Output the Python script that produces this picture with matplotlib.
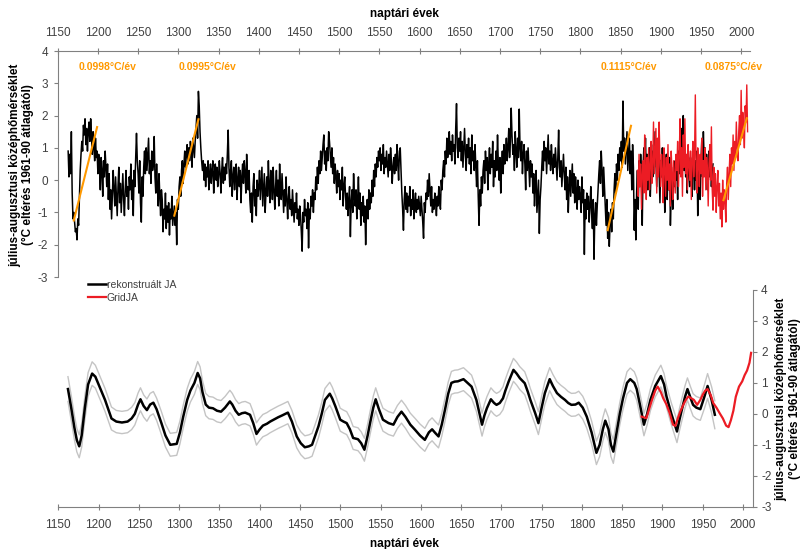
import numpy as np
import matplotlib
matplotlib.use("Agg")
import matplotlib.pyplot as plt

plt.rcParams['font.family'] = ['Liberation Sans', 'DejaVu Sans']
plt.rcParams['axes.unicode_minus'] = False

# reconstructed July-August anomaly, one value per year from rec_start
rec_start = 1163
rec_vals = [
    0.9, 0.1, 0.8, 0.2, 1.5, -0.4, -1.2,
    -1.0, -1.3, -1.6, -1.5, -1.85, -1.2, -1.4, -0.6, 0.3, 0.8,
    1.2, 0.9, 1.7, 1.4, 1.9, 1.1, 1.6, 0.9, 1.5, 1.8,
    1.2, 1.9, 1.4, 0.8, 1.5, 1.0, 0.6, 1.3, 0.7, 0.9,
    0.2, 0.8, 0.4, -0.3, 0.7, 0.3, -0.5, 0.6, 0.1, 0.9,
    0.4, -0.2, 0.5, -0.6, 0.2, -0.9, -0.3, -1.2, -0.4, 0.3,
    -0.3, -0.8, 0.1, -0.5, -1.1, -0.2, 0.4, -0.7, -0.1, -1.0,
    -0.4, 0.2, -0.6, -1.1, -0.3, 0.3, -0.5, -0.2, -0.9, 0.1,
    -0.3, 0.5, -0.6, 0.0, -1.1, 0.3, -0.2, 0.7, 1.45, 0.6,
    0.2, -0.4, 0.6, -0.7, -1.3, 0.1, -0.5, 0.4, 0.9, 0.2,
    1.0, 0.3, 0.8, 1.3, 0.2, 0.6, -0.1, 0.9, 0.3, 0.5,
    1.35, 0.1, -0.4, 0.5, -0.2, -0.8, 0.2, -0.5, -1.1, -0.3,
    -0.6, -1.6, -0.9, -1.2, -0.4, -1.5, -0.8, -1.3, -0.7, -1.7,
    -0.9, -1.2, -0.5, -1.4, -1.1, -0.8, -1.4, -1.0, -2.0, -0.6,
    -0.9, -0.2, 0.1, -0.5, 0.3, 0.6, -0.1, 0.5, 0.9, 0.4,
    0.8, 1.1, 0.5, 1.0, 0.6, 1.2, 0.9, 0.4, 1.3, 1.0,
    0.7, 1.2, 1.6, 2.0, 1.3, 2.75, 2.3, 1.5, 1.0, 0.6,
    0.3, 0.6, 0.0, 0.5, -0.2, 0.4, 0.1, 0.6, -0.3, 0.2,
    0.5, -0.1, 0.3, 0.6, -0.4, 0.2, 0.5, 0.0, 0.4, -0.2,
    0.1, 0.6, 0.2, -0.4, 0.3, 0.7, -0.1, 0.4, 0.0, 0.5,
    0.2, 0.8, 1.55, 0.4, -0.2, 0.3, 0.6, -0.5, 0.1, 0.4,
    -0.3, 0.2, 0.5, -0.6, 0.0, 0.4, -0.2, 0.3, -0.7, 0.1,
    0.5, -0.1, 0.6, 0.2, -0.4, 0.8, 0.1, -0.3, 0.3, -0.6,
    -1.0, -0.4, -1.3, -0.2, 0.2, -0.8, -0.3, -1.1, 0.0, -0.5,
    -0.2, 0.3, -0.6, -0.1, 0.4, -0.8, -0.3, 0.2, -1.0, -0.4,
    0.1, -0.5, 0.6, -0.2, -0.7, 0.3, -0.1, -0.6, 0.4, -0.3,
    -0.9, -0.2, 0.3, -0.5, 0.0, -0.8, 0.5, -0.3, -0.6, 0.2,
    -0.4, -1.0, -0.3, -0.8, 0.1, -0.6, -1.2, -0.5, -0.2, -0.9,
    -0.6, -1.1, -0.3, -0.8, -1.3, -0.7, -1.0, -0.4, -1.2, -0.9,
    -1.4, -0.8, -1.1, -1.6, -2.2, -1.0, -1.3, -0.6, -1.1, -0.9,
    -1.5, -0.7, -2.1, -0.9, -1.2, -0.5, -0.8, -0.3, -1.0, -0.4,
    -0.6, 0.1, -0.3, 0.4, -0.1, 0.6, 0.2, 0.9, 0.3, 0.7,
    1.1, 1.4, 0.5, 0.9, 0.3, 1.0, 0.6, 1.5, 1.2, 0.8,
    0.4, 1.0, 0.2, 0.7, -0.1, 0.5, 0.1, -0.4, 0.3, -0.2,
    0.2, -0.6, 0.0, -0.3, 0.4, -0.8, -0.2, 0.1, -0.5, -0.9,
    -0.4, -1.1, -0.6, -0.2, -1.75, -0.7, -0.3, -1.0, 0.2, -0.5,
    -0.8, -0.3, -1.2, -0.6, 0.1, -0.9, -0.4, -1.4, -0.7, -1.1,
    -0.5, -1.3, -0.8, -2.0, -1.0, -0.6, -1.2, -0.3, -0.9, -0.4,
    -0.7, 0.0, -0.5, 0.3, -0.2, 0.5, 0.1, 0.7, 0.4, 0.9,
    0.6, 1.0, 0.3, 0.8, 0.5, 1.1, 0.2, 0.7, 0.4, 0.9,
    0.5, 0.1, 0.8, 0.3, 1.0, 0.6, -0.1, 0.4, 0.7, 0.2,
    0.8, 0.3, 1.1, 0.5, 0.0, 0.9, 1.0, 0.3, -0.4, -0.9,
    -1.55, -0.6, -0.2, -0.9, -0.4, -1.0, -0.5, -0.8, -0.2, -1.1,
    -0.6, -0.9, -0.3, -1.2, -0.7, -0.4, -1.0, -0.6, -0.9, -0.5,
    -0.8, -1.1, -0.5, -0.9, -1.3, -1.8, -0.7, -1.0, -0.4, -0.6,
    0.0, -0.5, 0.2, -0.3, -0.8, -0.2, -1.0, -0.6, -0.9, -0.4,
    -0.7, -1.1, -0.5, -0.8, -0.2, -0.6, -0.9, 0.0, -0.3, 0.3,
    0.6, 0.1, 0.9, 0.5, 1.3, 0.7, 1.0, 1.5, 0.8, 1.2,
    0.6, 1.4, 0.9, 1.1, 0.5, 1.6, 2.37, 1.0, 0.7, 1.3,
    0.9, 1.5, 0.6, 1.2, 0.4, 1.0, 1.6, 0.8, 0.3, 1.1,
    0.7, 1.3, 0.5, 1.0, 0.2, 1.4, 0.6, 0.9, 0.3, 1.1,
    0.4, -0.2, 0.6, -0.5, -1.4, -0.3, -0.8, 0.1, -0.4, 0.3,
    0.6, -0.1, 0.9, 0.3, 0.7, -0.3, 0.5, 1.0, 0.2, 0.8,
    0.4, 1.2, -0.2, 0.6, 0.1, 0.9, 0.3, 1.4, 0.5, 0.0,
    0.7, -0.4, 0.4, 0.9, 0.2, 1.1, 0.5, 0.8, 1.3, 0.6,
    1.0, 1.6, 0.7, 1.2, 2.23, 1.4, 0.8, 1.1, 0.3, 1.5,
    0.9, 0.4, 1.3, 0.7, 2.2, 1.0, 0.6, 1.2, 0.2, 0.8,
    1.1, 0.5, -0.3, 0.9, 0.3, 1.0, 0.4, -0.2, 0.6, 0.1,
    0.5, -0.4, 0.2, -0.8, -0.1, 0.3, -1.0, -0.5, 0.0, -1.65,
    -0.6, -0.2, 0.4, 0.9, 0.3, 1.2, 0.6, 1.0, 0.2, 0.8,
    1.4, 0.5, 0.9, 0.3, 1.1, 0.6, 0.2, 0.8, 0.4, 1.0,
    0.5, 0.0, 0.7, 1.55, 0.4, 0.1, 0.6, -0.2, 0.3, 0.8,
    0.2, -0.3, 0.4, -0.6, 0.1, -1.0, -0.2, 0.3, -0.5, 0.0,
    0.5, -0.4, 0.2, -0.7, 0.1, -0.3, -0.9, 0.0, -0.6, -0.2,
    -0.5, -1.0, 0.1, -0.7, -0.3, -2.3, -0.6, -1.2, -0.4, -0.9,
    -0.5, -1.3, -0.8, -0.2, -1.0, -1.5, -0.6, -2.45, -1.1, -0.7,
    -1.4, -0.8, -0.3, 0.2, 0.6, -0.1, 0.9, 0.3, -0.5, 0.4,
    -0.2, -0.8, -1.4, -0.6, -1.8, -1.0, -2.05, -1.3, -0.9, -1.6,
    -0.7, -1.2, -0.3, 0.2, -0.4, 0.5, 0.0, 0.8, 0.3, 1.0,
    0.6, 1.2, 0.4, 2.45, 0.9, 1.3, 0.5, 1.0, 1.5, 0.3,
    0.8, 1.3, 0.2, 0.9, -0.3, 1.1, 0.4, -1.55, -0.6, -1.85,
    -0.4, 0.3, -0.9, 0.6, -0.2, 0.8, 0.1, -1.4, 0.4, 1.0,
    0.5, 1.3, 0.2, 0.8, -0.3, 0.6, 1.0, -0.5, 0.3, 0.9,
    0.1, 1.1, 0.4, 1.5, 0.7, -0.2, 0.9, 1.2, 0.3, -0.7,
    0.6, 0.1, 1.0, -0.4, 0.5, -1.0, 0.2, 0.8, -0.6, 0.3,
    -0.3, 0.7, -1.4, -0.5, 0.2, -0.9, 0.4, -0.2, 0.6, 0.0,
    0.5, -0.6, 0.9, 0.2, 1.2, 0.4, 1.6, 0.7, 2.0, 0.3,
    0.8, 0.1, 0.6, -0.4, 1.0, 0.3, -0.2, 0.7, 0.2, -0.5,
    0.4, 1.1, -0.3, 0.6, 0.0, 0.9, -1.1, 0.3, 0.7, -0.6,
    0.5, 1.2, 0.1, 1.5, 0.6, 1.0, 0.2, 0.8, -0.3, 0.4,
    0.9, 0.1, 0.6, -0.2, 0.3, 0.5,
]

# gridded instrumental July-August anomaly, one value per year
grid_start = 1871
grid_vals = [
    0.3, -0.5, 0.8, -0.2, 0.5, -0.9, 0.2, 0.6, -0.4,
    1.4, 0.2, -0.6, 0.7, 0.0, 1.0, -0.3, 0.4, 1.2, -0.1,
    0.5, 1.8, 0.2, 0.9, 1.6, -0.4, 1.3, 0.1, 1.8, 0.6,
    -0.2, 0.8, 0.3, -0.7, 1.0, 0.4, -0.5, 0.7, 0.0, 1.1,
    -0.3, 0.5, -0.8, 0.9, 0.2, -0.6, 0.6, 0.1, -0.4, 0.8,
    0.3, 1.2, -0.2, 0.7, 1.9, 0.1, 1.0, -0.5, 1.4, 0.4,
    1.9, 0.2, 0.8, -0.3, 1.1, 0.5, 0.0, 0.9, -0.6, 0.6,
    1.2, 0.1, 0.7, 2.64, 0.3, -0.4, 1.0, 0.5, -0.2, 0.8,
    0.2, 1.3, -0.5, 0.6, 0.1, 1.0, -0.3, 0.7, 0.4, -0.8,
    0.5, 1.1, 0.0, 1.65, -0.3, -0.93, 0.4, -0.5, 0.2, -1.0,
    -0.2, 0.3, -0.8, -0.1, -1.2, -0.4, -1.45, 0.0, -0.9, -0.3,
    -0.7, -1.3, -0.1, 0.4, -0.6, 0.2, 0.8, -0.2, 1.0, 0.5,
    1.4, 0.3, 1.2, 0.7, 1.8, 1.0, 0.6, 1.5, 2.0, 1.1,
    2.78, 1.3, 2.1, 1.6, 1.0, 2.3, 1.8, 2.95, 1.5,
]

# smoothed reconstruction with its error band half-width
smooth_years = [
    1162, 1166, 1170, 1173, 1176, 1179, 1183, 1187, 1192, 1196,
    1200, 1204, 1208, 1212, 1216, 1222, 1229, 1236, 1241, 1245,
    1249, 1252, 1256, 1260, 1264, 1268, 1272, 1278, 1283, 1289,
    1297, 1301, 1305, 1310, 1314, 1319, 1323, 1326, 1329, 1333,
    1337, 1342, 1347, 1352, 1357, 1363, 1366, 1370, 1374, 1378,
    1382, 1388, 1392, 1396, 1400, 1404, 1409, 1413, 1418, 1423,
    1428, 1435, 1440, 1446, 1451, 1456, 1461, 1465, 1469, 1473,
    1477, 1481, 1487, 1490, 1494, 1500, 1504, 1508, 1512, 1516,
    1522, 1526, 1530, 1534, 1537, 1541, 1544, 1548, 1553, 1560,
    1566, 1571, 1576, 1581, 1587, 1593, 1599, 1605, 1610, 1614,
    1618, 1622, 1626, 1630, 1634, 1638, 1642, 1646, 1653, 1658,
    1663, 1669, 1673, 1676, 1679, 1682, 1687, 1691, 1694, 1698,
    1702, 1705, 1709, 1715, 1719, 1723, 1729, 1733, 1736, 1742,
    1746, 1750, 1754, 1760, 1764, 1769, 1774, 1779, 1783, 1787,
    1792, 1796, 1801, 1806, 1812, 1818, 1822, 1826, 1829, 1833,
    1836, 1839, 1843, 1847, 1851, 1856, 1860, 1865, 1868, 1872,
    1877, 1881, 1885, 1891, 1898, 1902, 1905, 1911, 1918, 1921,
    1924, 1928, 1931, 1935, 1938, 1942, 1947, 1952, 1956, 1961,
    1965,
]
smooth_vals = [
    0.8, 0.2, -0.45, -0.85, -1.05, -0.7, 0.2, 0.95, 1.3, 1.2,
    0.95, 0.7, 0.45, 0.15, -0.15, -0.25, -0.28, -0.25, -0.15, 0.0,
    0.3, 0.47, 0.25, 0.12, 0.3, 0.36, 0.15, -0.3, -0.7, -1.0,
    -0.97, -0.6, -0.1, 0.45, 0.75, 1.0, 1.32, 1.15, 0.7, 0.3,
    0.2, 0.18, 0.1, 0.07, 0.2, 0.4, 0.3, 0.1, -0.03, 0.02,
    0.04, -0.03, -0.3, -0.65, -0.5, -0.38, -0.32, -0.25, -0.18, -0.11,
    -0.05, 0.04, -0.25, -0.73, -0.95, -1.08, -1.05, -1.0, -0.7, -0.4,
    0.0, 0.45, 0.65, 0.5, 0.24, -0.19, -0.25, -0.3, -0.5, -0.78,
    -0.82, -0.95, -1.16, -0.7, -0.3, 0.2, 0.47, 0.15, -0.19, -0.3,
    -0.35, -0.1, 0.07, -0.1, -0.35, -0.52, -0.7, -0.84, -0.6, -0.5,
    -0.62, -0.73, -0.35, 0.13, 0.65, 1.0, 1.04, 1.05, 1.12, 1.0,
    0.88, 0.45, 0.0, -0.35, -0.05, 0.18, 0.47, 0.35, 0.29, 0.35,
    0.5, 0.75, 1.04, 1.42, 1.3, 1.15, 0.99, 0.7, 0.45, 0.02,
    -0.3, 0.2, 0.67, 1.12, 0.9, 0.67, 0.55, 0.45, 0.35, 0.29,
    0.3, 0.36, 0.2, -0.09, -0.6, -1.26, -1.0, -0.5, -0.22, -0.5,
    -1.0, -1.22, -0.6, 0.0, 0.5, 1.0, 1.12, 1.0, 0.8, 0.3,
    -0.35, 0.0, 0.45, 0.9, 1.22, 0.95, 0.56, 0.0, -0.57, -0.2,
    0.13, 0.55, 0.8, 0.5, 0.29, 0.2, 0.15, 0.55, 0.9, 0.45,
    -0.03,
]
smooth_band = [
    0.40, 0.40, 0.39, 0.38, 0.37, 0.38, 0.38, 0.38, 0.38, 0.37,
    0.37, 0.37, 0.37, 0.37, 0.37, 0.36, 0.36, 0.36, 0.36, 0.36,
    0.37, 0.37, 0.36, 0.36, 0.36, 0.36, 0.36, 0.37, 0.37, 0.37,
    0.37, 0.37, 0.37, 0.37, 0.37, 0.37, 0.37, 0.37, 0.37, 0.36,
    0.36, 0.36, 0.36, 0.36, 0.36, 0.36, 0.36, 0.36, 0.36, 0.36,
    0.36, 0.36, 0.36, 0.36, 0.36, 0.36, 0.36, 0.36, 0.36, 0.36,
    0.36, 0.36, 0.36, 0.37, 0.37, 0.37, 0.37, 0.37, 0.37, 0.37,
    0.37, 0.37, 0.37, 0.37, 0.37, 0.37, 0.37, 0.37, 0.37, 0.37,
    0.37, 0.37, 0.37, 0.37, 0.37, 0.37, 0.37, 0.37, 0.37, 0.37,
    0.37, 0.37, 0.37, 0.37, 0.37, 0.37, 0.37, 0.37, 0.37, 0.37,
    0.37, 0.37, 0.37, 0.37, 0.37, 0.37, 0.37, 0.37, 0.37, 0.37,
    0.37, 0.37, 0.37, 0.37, 0.37, 0.37, 0.37, 0.37, 0.37, 0.37,
    0.37, 0.37, 0.37, 0.37, 0.37, 0.37, 0.37, 0.37, 0.37, 0.37,
    0.37, 0.37, 0.37, 0.37, 0.37, 0.37, 0.37, 0.37, 0.37, 0.37,
    0.37, 0.37, 0.37, 0.37, 0.37, 0.38, 0.38, 0.38, 0.38, 0.38,
    0.38, 0.38, 0.37, 0.36, 0.36, 0.36, 0.36, 0.36, 0.36, 0.36,
    0.36, 0.35, 0.35, 0.35, 0.35, 0.35, 0.35, 0.35, 0.36, 0.36,
    0.36, 0.36, 0.36, 0.36, 0.36, 0.36, 0.36, 0.38, 0.40, 0.42,
    0.45,
]

# smoothed gridded series
grid_smooth_years = [
    1874, 1880, 1884, 1887, 1891, 1894, 1898, 1901, 1905, 1909,
    1913, 1916, 1919, 1922, 1926, 1929, 1932, 1936, 1939, 1943,
    1947, 1950, 1953, 1956, 1960, 1963, 1967, 1971, 1975, 1979,
    1982, 1985, 1988, 1991, 1995, 1999, 2002, 2005, 2008, 2010,
]
grid_smooth_vals = [
    -0.09, -0.14, 0.2, 0.45, 0.75, 0.88, 0.7, 0.5, 0.3, 0.02,
    -0.35, -0.39, -0.15, 0.07, 0.3, 0.45, 0.56, 0.5, 0.45, 0.29,
    0.45, 0.62, 0.75, 0.8, 0.6, 0.35, 0.2, 0.02, -0.15, -0.38,
    -0.43, -0.2, 0.1, 0.55, 0.88, 1.05, 1.25, 1.4, 1.65, 1.97,
]

# warming episodes: start year, end year, start value and fitted slope (°C/yr)
trend_x0 = [1170, 1295, 1834, 1978]
trend_x1 = [1199, 1325, 1863, 2007]
trend_y0 = [-1.25, -1.1, -1.55, -0.62]
trend_slopes = [0.0998, 0.0995, 0.1115, 0.0875]
trend_labels = ["0.0998°C/év", "0.0995°C/év", "0.1115°C/év", "0.0875°C/év"]
trend_label_x = [1176, 1301, 1825, 1955]

ticks_x = list(range(1150, 2001, 50))
ticks_y = list(range(-3, 5))

axis_grey = '#808080'
text_grey = '#404040'
orange = '#ff9900'
red = '#ec1c24'

W, H = 804, 549
fig = plt.figure(figsize=(W / 100, H / 100), dpi=100)

# ---- top panel: annual values ----
ax1 = fig.add_axes([57.7 / W, 1 - 277 / H, (750 - 57.7) / W, (277 - 51) / H])
rec_years = np.arange(rec_start, rec_start + len(rec_vals))
grid_years = np.arange(grid_start, grid_start + len(grid_vals))
ax1.plot(rec_years, rec_vals, color='black', lw=1.1, zorder=2)
ax1.plot(grid_years, grid_vals, color=red, lw=1.0, zorder=3)
for x0, x1, y0, k in zip(trend_x0, trend_x1, trend_y0, trend_slopes):
    ax1.plot([x0, x1], [y0, y0 + k * (x1 - x0)], color=orange, lw=1.5, zorder=4)
for lx, lab in zip(trend_label_x, trend_labels):
    ax1.text(lx, 3.5, lab, color=orange, fontsize=7.5, fontweight='bold',
             ha='left', va='center')

ax1.set_xlim(1150, 2011)
ax1.set_ylim(-3, 4)
ax1.xaxis.tick_top()
ax1.set_xticks(ticks_x)
ax1.set_yticks(ticks_y)
for s in ['bottom', 'right']:
    ax1.spines[s].set_visible(False)
for s in ['top', 'left']:
    ax1.spines[s].set_color(axis_grey)
ax1.tick_params(axis='x', direction='inout', length=4, color=axis_grey,
                labelsize=8.5, labelcolor=text_grey, pad=7)
ax1.tick_params(axis='y', direction='out', length=3, color=axis_grey,
                labelsize=8.5, labelcolor=text_grey, pad=4)
ax1.patch.set_alpha(0)

# ---- bottom panel: smoothed values ----
ax2 = fig.add_axes([58.3 / W, 1 - 506.7 / H, (752.7 - 58.3) / W, (506.7 - 290) / H])
sy = np.array(smooth_years)
sv = np.array(smooth_vals)
sb = np.array(smooth_band)
ax2.plot(sy, sv + sb, color='#c4c4c4', lw=1.0, zorder=1)
ax2.plot(sy, sv - sb, color='#c4c4c4', lw=1.0, zorder=1)
l_rec, = ax2.plot(sy, sv, color='black', lw=1.8, zorder=2, label='rekonstruált JA')
l_grid, = ax2.plot(grid_smooth_years, grid_smooth_vals, color=red, lw=1.6,
                   zorder=3, label='GridJA')

ax2.set_xlim(1150, 2012)
ax2.set_ylim(-3, 4)
ax2.yaxis.tick_right()
ax2.set_xticks(ticks_x)
ax2.set_yticks(ticks_y)
for s in ['top', 'left']:
    ax2.spines[s].set_visible(False)
for s in ['bottom', 'right']:
    ax2.spines[s].set_color(axis_grey)
ax2.tick_params(axis='x', direction='inout', length=4, color=axis_grey,
                labelsize=8.5, labelcolor=text_grey, pad=7)
ax2.tick_params(axis='y', direction='out', length=3, color=axis_grey,
                labelsize=8.5, labelcolor=text_grey, pad=3)
ax2.patch.set_alpha(0)

fig.legend(handles=[l_rec, l_grid], loc='upper left',
           bbox_to_anchor=(88 / W, 1 - 280 / H), frameon=False, fontsize=7.5,
           handlelength=1.7, handletextpad=0.1, labelspacing=0.3,
           borderpad=0, borderaxespad=0, labelcolor=text_grey)

# axis titles
xlab = "naptári évek"
ylab = "július-augusztusi középhőmérséklet\n(°C eltérés 1961-90 átlagától)"
fig.text(404 / W, 1 - 14 / H, xlab, fontsize=8.5, fontweight='bold',
         ha='center', va='center')
fig.text(404 / W, 1 - 544 / H, xlab, fontsize=8.5, fontweight='bold',
         ha='center', va='center')
fig.text(21.5 / W, 1 - 165 / H, ylab, fontsize=8.5, fontweight='bold', rotation=90,
         ha='center', va='center', multialignment='center', linespacing=1.15)
fig.text(788 / W, 1 - 399 / H, ylab, fontsize=8.5, fontweight='bold', rotation=90,
         ha='center', va='center', multialignment='center', linespacing=1.15)

fig.savefig('out.png', dpi=100)
